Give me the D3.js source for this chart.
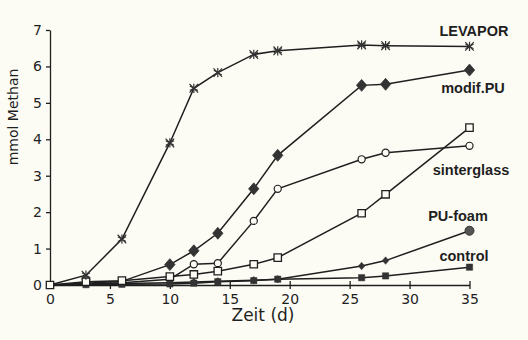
<!DOCTYPE html>
<html>
<head>
<meta charset="utf-8">
<script src="https://cdn.jsdelivr.net/npm/d3@7"></script>
<style>
  html, body { margin: 0; padding: 0; background: #fdfcf4; }
  svg { display: block; }
</style>
</head>
<body>
<div id="chart"></div>
<script>
// Sampling days (d)
const days = [0, 3, 6, 10, 12, 14, 17, 19, 26, 28, 35];

// mmol Methan per series
const levapor     = [0, 0.27, 1.26, 3.9, 5.4, 5.83, 6.33, 6.43, 6.59, 6.57, 6.55];
const modifPU     = [0, 0.05, 0.1, 0.56, 0.94, 1.42, 2.64, 3.56, 5.48, 5.51, 5.9];
const sinterglass = [0, 0.03, 0.06, 0.16, 0.57, 0.6, 1.76, 2.64, 3.45, 3.63, 3.82];
const openSquare  = [0, 0.09, 0.12, 0.23, 0.29, 0.38, 0.57, 0.75, 1.97, 2.49, 4.32];
const puFoam      = [0, 0.02, 0.04, 0.06, 0.08, 0.1, 0.13, 0.16, 0.52, 0.67, 1.49];
const control     = [0, 0.01, 0.02, 0.03, 0.05, 0.09, 0.12, 0.16, 0.2, 0.25, 0.49];

const xTicks = [0, 5, 10, 15, 20, 25, 30, 35];
const yTicks = [0, 1, 2, 3, 4, 5, 6, 7];

const allSeries = [levapor, modifPU, sinterglass, openSquare, puFoam, control];

const W = 528, H = 340;
const margin = { top: 30, right: 58.5, bottom: 55, left: 50 };
const width = W - margin.left - margin.right;
const height = H - margin.top - margin.bottom;

const svg = d3.select('#chart').append('svg')
  .attr('width', W)
  .attr('height', H);

const g = svg.append('g').attr('transform', `translate(${margin.left},${margin.top})`);

const x = d3.scaleLinear().domain([0, 35]).range([0, width]);
const y = d3.scaleLinear().domain([0, 7]).range([height, 0]);

const ink = '#1f1f1f';
const paper = '#fdfcf4';
const tickFont = '"DejaVu Sans", sans-serif';

// X axis (ticks cross the line)
const xAxis = g.append('g')
  .attr('transform', `translate(0,${height})`)
  .call(d3.axisBottom(x).tickValues(xTicks).tickFormat(d3.format('d'))
    .tickSize(4).tickSizeOuter(0).tickPadding(5));
xAxis.selectAll('.tick line').attr('y1', -4);
xAxis.selectAll('text')
  .attr('font-family', tickFont)
  .attr('font-size', '14px')
  .attr('fill', ink);

// Y axis
const yAxis = g.append('g')
  .call(d3.axisLeft(y).tickValues(yTicks).tickFormat(d3.format('d'))
    .tickSize(4).tickSizeOuter(0).tickPadding(4));
yAxis.selectAll('text')
  .attr('font-family', tickFont)
  .attr('font-size', '14px')
  .attr('fill', ink);

g.selectAll('.domain, .tick line').attr('stroke', ink).attr('stroke-width', 1.3);

// Axis titles
g.append('text')
  .attr('x', 213)
  .attr('y', height + 36)
  .attr('text-anchor', 'middle')
  .attr('font-family', tickFont)
  .attr('font-size', '17px')
  .attr('fill', ink)
  .text('Zeit (d)');

g.append('text')
  .attr('transform', 'rotate(-90)')
  .attr('x', -(117 - margin.top))
  .attr('y', -32)
  .attr('text-anchor', 'middle')
  .attr('font-family', tickFont)
  .attr('font-size', '14px')
  .attr('fill', ink)
  .text('mmol Methan');

// Lines
const line = d3.line()
  .x((d, i) => x(days[i]))
  .y((d) => y(d));

allSeries.forEach((s) => {
  g.append('path')
    .datum(s)
    .attr('fill', 'none')
    .attr('stroke', ink)
    .attr('stroke-width', 1.5)
    .attr('d', line);
});

// Rhombus marker, a bit taller than wide
const rhombus = {
  draw(ctx, size) {
    const w = Math.sqrt(size) * 0.7;
    const h = w * 1.15;
    ctx.moveTo(0, -h);
    ctx.lineTo(w, 0);
    ctx.lineTo(0, h);
    ctx.lineTo(-w, 0);
    ctx.closePath();
  }
};

// Markers: keep day index aligned, draw from index `from` to `to`
function pts(values, from, to) {
  return values.map((v, i) => ({ x: days[i], y: v, i }))
    .filter((d) => d.i >= from && d.i < to);
}

function markers(values, from, to, type, size, fill, stroke, sw) {
  g.append('g').selectAll('path')
    .data(pts(values, from, to))
    .enter()
    .append('path')
    .attr('transform', (d) => `translate(${x(d.x)},${y(d.y)})`)
    .attr('d', d3.symbol(type).size(size))
    .attr('fill', fill)
    .attr('stroke', stroke)
    .attr('stroke-width', sw);
}

const n = days.length;
markers(control, 0, n, d3.symbolSquare, 40, '#333', '#333', 0.5);
markers(puFoam, 0, n - 1, rhombus, 22, '#333', '#333', 0.5);
g.append('circle')
  .attr('cx', x(days[n - 1]))
  .attr('cy', y(puFoam[n - 1]))
  .attr('r', 4.5)
  .attr('fill', '#555')
  .attr('stroke', '#333');
markers(openSquare, 0, n, d3.symbolSquare, 55, paper, ink, 1.3);
markers(sinterglass, 4, n, d3.symbolCircle, 40, paper, ink, 1.2);
markers(modifPU, 3, n, rhombus, 55, '#333', '#333', 0.8);
markers(levapor, 1, n, d3.symbolAsterisk, 60, 'none', '#333', 1.2);
markers(levapor, 1, n, d3.symbolTimes, 50, 'none', '#333', 1.2);

// Series labels at the right
const labelPos = [
  { name: 'LEVAPOR', cx: 474, cy: 31 },
  { name: 'modif.PU', cx: 473, cy: 88 },
  { name: 'sinterglass', cx: 471, cy: 170 },
  { name: 'PU-foam', cx: 458, cy: 216 },
  { name: 'control', cx: 464, cy: 256 }
];
svg.append('g').selectAll('text')
  .data(labelPos)
  .enter()
  .append('text')
  .attr('x', (d) => d.cx)
  .attr('y', (d) => d.cy)
  .attr('dy', '0.35em')
  .attr('text-anchor', 'middle')
  .attr('font-family', '"Liberation Sans", Arial, sans-serif')
  .attr('font-weight', 'bold')
  .attr('font-size', '14.5px')
  .attr('fill', ink)
  .text((d) => d.name);
</script>
</body>
</html>
